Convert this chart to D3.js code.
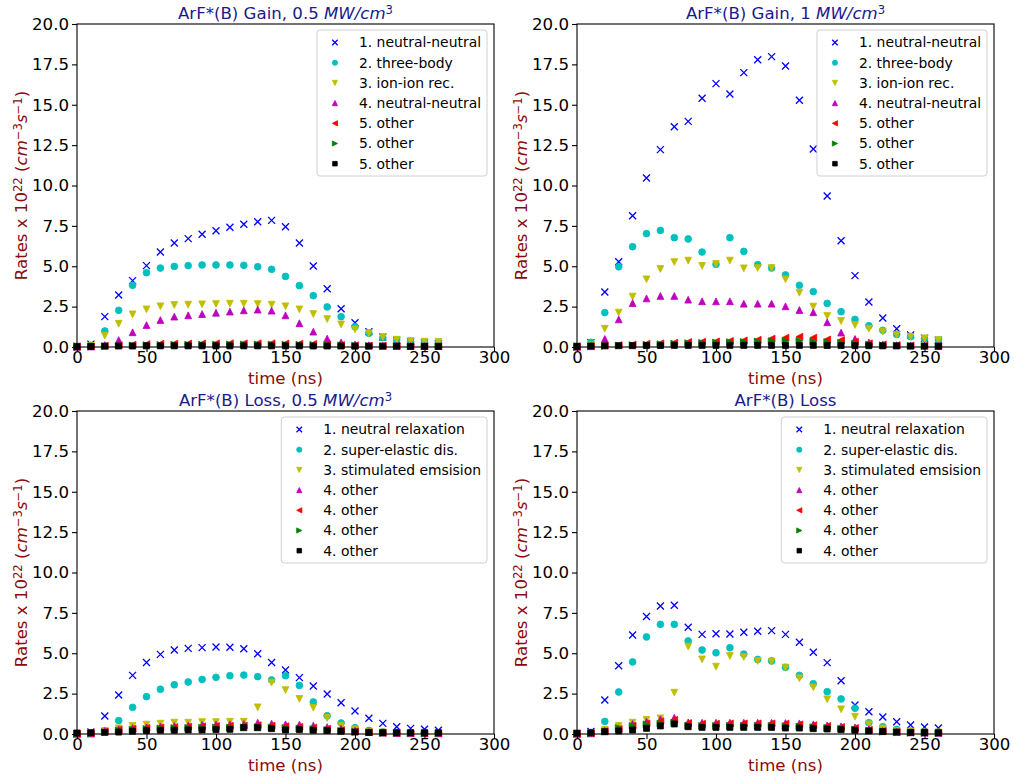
<!DOCTYPE html>
<html>
<head>
<meta charset="utf-8">
<script src="https://cdn.jsdelivr.net/npm/d3@7"></script>
<style>
  body { margin: 0; background: #fff; }
  svg { display: block; }
  text { font-family: "DejaVu Sans", sans-serif; }
</style>
</head>
<body>
<svg id="fig" width="1014" height="780"></svg>
<script>
// Sampling times (ns)
const times = [0,10,20,30,40,50,60,70,80,90,100,110,120,130,140,150,160,170,180,190,200,210,220,230,240,250,260];
const xTicks = [0,50,100,150,200,250,300];
const yTicks = [0,2.5,5,7.5,10,12.5,15,17.5,20];

const gainLabels = ["1. neutral-neutral","2. three-body","3. ion-ion rec.","4. neutral-neutral","5. other","5. other","5. other"];
const lossLabels = ["1. neutral relaxation","2. super-elastic dis.","3. stimulated emsision","4. other","4. other","4. other","4. other"];

// ArF*(B) gain channels, 0.5 MW/cm^3 (units of 1e22 cm^-3 s^-1)
const gainHalf1 = [0.05,0.18,1.88,3.22,4.11,5.04,5.88,6.44,6.71,6.98,7.20,7.41,7.60,7.76,7.84,7.45,6.44,5.02,3.61,2.37,1.50,0.95,0.62,0.42,0.32,0.26,0.22];
const gainHalf2 = [0.03,0.10,0.99,2.27,3.82,4.60,4.89,4.99,5.04,5.08,5.08,5.08,5.06,4.97,4.81,4.37,3.80,3.18,2.48,1.88,1.26,0.85,0.58,0.44,0.33,0.29,0.27];
const gainHalf3 = [0.02,0.06,0.70,1.44,2.02,2.33,2.52,2.60,2.62,2.64,2.66,2.68,2.68,2.66,2.62,2.52,2.33,2.04,1.73,1.40,1.09,0.85,0.62,0.45,0.37,0.33,0.31];
const gainHalf4 = [0.01,0.03,0.12,0.43,0.91,1.36,1.67,1.88,1.96,2.04,2.12,2.19,2.27,2.31,2.25,1.96,1.47,0.95,0.52,0.29,0.16,0.11,0.09,0.08,0.07,0.06,0.06];
const gainHalf5 = [0.01,0.03,0.08,0.12,0.15,0.18,0.20,0.21,0.22,0.22,0.23,0.23,0.23,0.23,0.23,0.22,0.21,0.19,0.16,0.13,0.11,0.09,0.08,0.07,0.06,0.05,0.05];
const gainHalf6 = [0.01,0.02,0.05,0.08,0.10,0.12,0.13,0.14,0.15,0.15,0.15,0.16,0.16,0.16,0.16,0.15,0.14,0.13,0.11,0.10,0.08,0.07,0.06,0.05,0.05,0.04,0.04];
const gainHalf7 = [0.02,0.04,0.05,0.06,0.06,0.07,0.07,0.07,0.07,0.07,0.07,0.07,0.07,0.07,0.07,0.07,0.07,0.06,0.06,0.06,0.05,0.05,0.05,0.05,0.04,0.04,0.04];

// ArF*(B) gain channels, 1 MW/cm^3
const gainFull1 = [0.05,0.27,3.41,5.28,8.13,10.46,12.22,13.64,13.97,15.40,16.31,15.67,16.99,17.79,17.98,17.40,15.28,12.26,9.35,6.58,4.42,2.79,1.80,1.13,0.74,0.55,0.42];
const gainFull2 = [0.03,0.29,2.13,4.97,6.21,7.02,7.22,6.77,6.69,5.88,5.12,6.77,5.92,5.10,4.89,4.46,3.82,3.43,2.70,2.19,1.71,1.32,1.03,0.78,0.64,0.52,0.43];
const gainFull3 = [0.02,0.10,1.13,2.13,3.12,4.19,4.83,5.26,5.35,5.02,5.14,5.35,4.87,4.89,4.89,4.19,3.36,2.50,1.92,1.61,1.36,1.13,0.95,0.76,0.64,0.54,0.43];
const gainFull4 = [0.01,0.05,0.50,1.71,2.72,3.01,3.16,3.16,2.93,2.83,2.83,2.83,2.68,2.68,2.68,2.52,2.29,2.15,1.53,0.89,0.50,0.29,0.16,0.11,0.09,0.08,0.07];
const gainFull5 = [0.01,0.04,0.08,0.12,0.16,0.20,0.23,0.27,0.31,0.33,0.35,0.38,0.41,0.45,0.52,0.58,0.64,0.58,0.47,0.43,0.33,0.23,0.16,0.12,0.09,0.08,0.07];
const gainFull6 = [0.01,0.03,0.06,0.09,0.12,0.15,0.18,0.21,0.24,0.26,0.28,0.30,0.32,0.34,0.36,0.38,0.38,0.34,0.30,0.26,0.20,0.15,0.11,0.09,0.07,0.06,0.05];
const gainFull7 = [0.04,0.06,0.07,0.08,0.08,0.09,0.09,0.10,0.10,0.10,0.10,0.10,0.10,0.10,0.10,0.10,0.10,0.10,0.09,0.09,0.08,0.08,0.07,0.07,0.06,0.06,0.05];

// ArF*(B) loss channels, 0.5 MW/cm^3
const lossHalf1 = [0.03,0.12,1.11,2.41,3.63,4.43,4.93,5.20,5.30,5.35,5.39,5.37,5.28,4.97,4.43,3.96,3.49,2.97,2.48,1.94,1.42,0.97,0.66,0.45,0.35,0.29,0.23];
const lossHalf2 = [0.02,0.05,0.21,0.83,1.65,2.31,2.77,3.05,3.22,3.38,3.51,3.61,3.65,3.55,3.35,3.61,3.01,1.98,1.13,0.68,0.39,0.22,0.13,0.09,0.07,0.06,0.05];
const lossHalf3 = [0.01,0.04,0.18,0.35,0.50,0.58,0.64,0.70,0.70,0.74,0.74,0.76,0.76,1.65,3.18,2.72,2.17,1.63,0.99,0.50,0.29,0.15,0.10,0.07,0.06,0.05,0.04];
const lossHalf4 = [0.01,0.03,0.18,0.30,0.36,0.42,0.46,0.50,0.53,0.56,0.58,0.60,0.62,0.70,0.64,0.60,0.58,0.52,0.43,0.33,0.20,0.12,0.08,0.06,0.05,0.04,0.04];
const lossHalf5 = [0.01,0.03,0.16,0.27,0.33,0.38,0.41,0.44,0.46,0.48,0.50,0.51,0.52,0.55,0.52,0.48,0.45,0.40,0.33,0.25,0.16,0.10,0.07,0.05,0.04,0.04,0.03];
const lossHalf6 = [0.01,0.02,0.12,0.22,0.28,0.32,0.35,0.37,0.38,0.39,0.40,0.40,0.41,0.42,0.40,0.37,0.34,0.30,0.25,0.19,0.13,0.09,0.06,0.05,0.04,0.03,0.03];
const lossHalf7 = [0.06,0.08,0.10,0.12,0.17,0.21,0.23,0.23,0.25,0.25,0.27,0.29,0.39,0.39,0.33,0.25,0.27,0.23,0.21,0.17,0.12,0.10,0.08,0.08,0.08,0.08,0.08];

// ArF*(B) loss channels, 1 MW/cm^3
const lossFull1 = [0.04,0.15,2.11,4.23,6.13,7.28,7.93,7.97,6.61,6.17,6.21,6.19,6.30,6.36,6.40,6.17,5.68,5.06,4.42,3.30,1.80,1.38,1.05,0.76,0.56,0.43,0.37];
const lossFull2 = [0.02,0.10,0.78,2.60,4.46,6.01,6.79,6.79,5.76,5.20,5.03,5.34,4.95,4.62,4.52,4.13,3.63,3.11,2.62,2.17,1.59,0.70,0.45,0.29,0.18,0.12,0.10];
const lossFull3 = [0.01,0.05,0.25,0.50,0.70,0.87,0.97,2.56,5.41,4.62,4.17,4.83,4.77,4.52,4.48,4.11,3.45,2.89,2.15,1.53,1.07,0.60,0.35,0.20,0.15,0.10,0.10];
const lossFull4 = [0.01,0.04,0.20,0.35,0.62,0.76,0.91,1.01,0.72,0.70,0.70,0.70,0.70,0.70,0.70,0.68,0.66,0.60,0.54,0.48,0.41,0.30,0.20,0.14,0.10,0.08,0.07];
const lossFull5 = [0.01,0.04,0.18,0.32,0.52,0.66,0.80,0.88,0.68,0.64,0.64,0.66,0.66,0.66,0.66,0.64,0.60,0.55,0.50,0.44,0.37,0.27,0.18,0.12,0.09,0.07,0.06];
const lossFull6 = [0.01,0.03,0.15,0.38,0.50,0.60,0.65,0.70,0.52,0.50,0.50,0.50,0.50,0.50,0.50,0.48,0.46,0.42,0.38,0.33,0.28,0.20,0.14,0.10,0.07,0.06,0.05];
const lossFull7 = [0.05,0.08,0.14,0.19,0.25,0.35,0.50,0.62,0.45,0.41,0.41,0.41,0.41,0.41,0.41,0.37,0.37,0.33,0.31,0.27,0.23,0.19,0.15,0.12,0.10,0.10,0.08];

// Marker style per channel
const seriesColors = ["#0000ff", "#00bfbf", "#bfbf00", "#bf00bf", "#ff0000", "#008000", "#000000"];
const seriesMarkers = ["x", "o", "v", "^", "<", ">", "s"];

const panels = [
  { title: "ArF*(B) Gain, 0.5 ", unit: true, labels: gainLabels,
    rates: [gainHalf1, gainHalf2, gainHalf3, gainHalf4, gainHalf5, gainHalf6, gainHalf7], col: 0, row: 0 },
  { title: "ArF*(B) Gain, 1 ", unit: true, labels: gainLabels,
    rates: [gainFull1, gainFull2, gainFull3, gainFull4, gainFull5, gainFull6, gainFull7], col: 1, row: 0 },
  { title: "ArF*(B) Loss, 0.5 ", unit: true, labels: lossLabels,
    rates: [lossHalf1, lossHalf2, lossHalf3, lossHalf4, lossHalf5, lossHalf6, lossHalf7], col: 0, row: 1 },
  { title: "ArF*(B) Loss", unit: false, labels: lossLabels,
    rates: [lossFull1, lossFull2, lossFull3, lossFull4, lossFull5, lossFull6, lossFull7], col: 1, row: 1 }
];

const svg = d3.select("#fig");
const colLeft = [77, 577];
const rowTop = [24, 411];
const plotW = 417, plotH = 323;
const titleColor = "#1a1a8e";
const labelColor = "#8b0a0a";

function markerPath(m, s) {
  const h = s / 2;
  switch (m) {
    case "x": return `M${-h},${-h}L${h},${h}M${-h},${h}L${h},${-h}`;
    case "o": return d3.symbol(d3.symbolCircle, Math.PI * h * h)();
    case "v": return `M0,${h}L${-h},${-h}L${h},${-h}Z`;
    case "^": return `M0,${-h}L${-h},${h}L${h},${h}Z`;
    case "<": return `M${-h},0L${h},${-h}L${h},${h}Z`;
    case ">": return `M${h},0L${-h},${-h}L${-h},${h}Z`;
    case "s": { const q = h * 0.88; return `M${-q},${-q}H${q}V${q}H${-q}Z`; }
  }
}

function styleMarker(sel, i) {
  const c = seriesColors[i];
  if (seriesMarkers[i] === "x") {
    sel.attr("fill", "none").attr("stroke", c).attr("stroke-width", 1.3);
  } else {
    sel.attr("fill", c).attr("stroke", c).attr("stroke-width", 0.8);
  }
}

panels.forEach(p => {
  const x0 = colLeft[p.col], y0 = rowTop[p.row];
  const x = d3.scaleLinear().domain([0, 300]).range([x0, x0 + plotW]);
  const y = d3.scaleLinear().domain([0, 20]).range([y0 + plotH, y0]);
  const g = svg.append("g");

  // points, one channel after another
  p.rates.forEach((vals, i) => {
    g.append("g").selectAll("path")
      .data(vals.map((v, k) => [times[k], v]))
      .join("path")
      .attr("d", markerPath(seriesMarkers[i], seriesMarkers[i] === "x" ? 7 : 6.8))
      .attr("transform", d => `translate(${x(d[0])},${y(d[1])})`)
      .call(styleMarker, i);
  });

  // axes
  const ax = g.append("g").attr("transform", `translate(0,${y0 + plotH})`)
    .call(d3.axisBottom(x).tickValues(xTicks).tickFormat(d3.format("d")).tickSize(5).tickPadding(3));
  const ay = g.append("g").attr("transform", `translate(${x0},0)`)
    .call(d3.axisLeft(y).tickValues(yTicks).tickFormat(d3.format(".1f")).tickSize(5).tickPadding(3));
  [ax, ay].forEach(a => {
    a.select(".domain").remove();
    a.selectAll(".tick line").attr("stroke", "#000").attr("stroke-width", 1.1);
    a.selectAll(".tick text").attr("fill", "#000").style("font-size", "16.6px")
      .style("font-family", '"DejaVu Sans", sans-serif');
  });
  ax.selectAll(".tick text").attr("y", 4).attr("dy", "0.71em");

  g.append("rect")
    .attr("x", x0).attr("y", y0).attr("width", plotW).attr("height", plotH)
    .attr("fill", "none").attr("stroke", "#000").attr("stroke-width", 1.1);

  // title
  const t = g.append("text")
    .attr("x", x0 + plotW / 2).attr("y", y0 - 5)
    .attr("text-anchor", "middle").attr("fill", titleColor).style("font-size", "16.6px");
  t.append("tspan").text(p.title);
  if (p.unit) {
    t.append("tspan").attr("font-style", "italic").text("MW/cm");
    t.append("tspan").attr("font-size", "0.7em").attr("dy", "-0.45em").text("3");
  }

  // x label
  g.append("text")
    .attr("x", x0 + plotW / 2).attr("y", y0 + plotH + 37)
    .attr("text-anchor", "middle").attr("fill", labelColor).style("font-size", "16.6px")
    .text("time (ns)");

  // y label
  const yl = g.append("text")
    .attr("transform", `translate(${x0 - 50},${y0 + plotH / 2}) rotate(-90)`)
    .attr("text-anchor", "middle").attr("fill", labelColor).style("font-size", "16.6px");
  yl.append("tspan").text("Rates x 10");
  yl.append("tspan").attr("font-size", "0.7em").attr("dy", "-0.45em").text("22");
  yl.append("tspan").attr("dy", "0.315em").text(" (");
  yl.append("tspan").attr("font-style", "italic").text("cm");
  yl.append("tspan").attr("font-size", "0.7em").attr("dy", "-0.45em").text("\u22123");
  yl.append("tspan").attr("font-style", "italic").attr("dy", "0.315em").text("s");
  yl.append("tspan").attr("font-size", "0.7em").attr("dy", "-0.45em").text("\u22121");
  yl.append("tspan").attr("dy", "0.315em").text(")");

  // legend in the upper right corner
  const lg = g.append("g");
  const rowH = 20.2;
  const firstRow = y0 + 18.5;
  const box = lg.append("rect");
  const texts = p.labels.map((lab, i) =>
    lg.append("text").attr("y", firstRow + i * rowH).attr("dy", "0.35em")
      .attr("fill", "#000").style("font-size", "13.9px").text(lab));
  const tw = d3.max(texts, s => s.node().getComputedTextLength());
  const boxW = 42 + tw + 6;
  const bx = x0 + plotW - 7 - boxW;
  texts.forEach(s => s.attr("x", bx + 42));
  p.labels.forEach((lab, i) => {
    lg.append("path")
      .attr("d", markerPath(seriesMarkers[i], seriesMarkers[i] === "x" ? 5.5 : 5.2))
      .attr("transform", `translate(${bx + 18},${firstRow + i * rowH})`)
      .call(styleMarker, i);
  });
  box.attr("x", bx).attr("y", y0 + 6).attr("width", boxW).attr("height", 146)
    .attr("rx", 3).attr("fill", "#fff").attr("fill-opacity", 0.8)
    .attr("stroke", "#d0d0d0").attr("stroke-width", 1);
});
</script>
</body>
</html>
